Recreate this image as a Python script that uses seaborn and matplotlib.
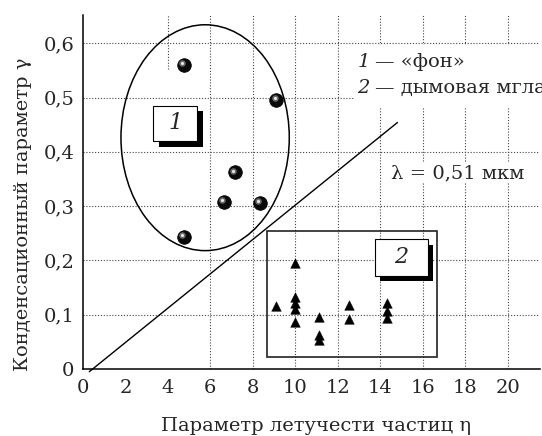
import numpy as np
import pandas as pd
import matplotlib
matplotlib.use('Agg')
import matplotlib.pyplot as plt
import matplotlib.patheffects as pe
from matplotlib.patches import Ellipse, Rectangle
from matplotlib.transforms import offset_copy
import seaborn as sns

# group 1 - "фон" (spheres)
fon_x = [4.77, 9.10, 7.15, 6.65, 8.34, 4.77]
fon_y = [0.560, 0.496, 0.362, 0.308, 0.306, 0.244]

# group 2 - дымовая мгла (triangles)
haze_x = [9.08, 10.0, 10.0, 10.0, 10.0, 10.0, 11.1, 11.1, 11.1, 12.5, 12.5, 14.3, 14.3, 14.3]
haze_y = [0.116, 0.196, 0.132, 0.122, 0.111, 0.087, 0.096, 0.063, 0.053, 0.117, 0.092, 0.121, 0.107, 0.093]

# separating line
line_x = [0.3, 14.8]
line_y = [-0.005, 0.454]

x_ticks = list(range(0, 21, 2))
y_ticks = [0, 0.1, 0.2, 0.3, 0.4, 0.5, 0.6]
y_labels = ['0', '0,1', '0,2', '0,3', '0,4', '0,5', '0,6']

df_fon = pd.DataFrame({'eta': fon_x, 'gamma': fon_y})
df_haze = pd.DataFrame({'eta': haze_x, 'gamma': haze_y})

sns.set_style('white')
plt.rcParams['font.family'] = ['DejaVu Serif']
FS = 14

fig = plt.figure(figsize=(5.42, 4.36), dpi=100)
ax = fig.add_axes([0.153, 0.1537, 0.843, 0.8119])

dot = dict(color='#444444', lw=0.8, linestyle=(0, (1, 1.6)), zorder=0)
ax.grid(False)
for gy in y_ticks[1:]:
    ax.axhline(gy, **dot)
for gx in range(6, 21, 2):
    ax.axvline(gx, **dot)
ax.axvline(4, ymin=0.847, ymax=1, **dot)

# cluster outlines
ax.add_patch(Ellipse((5.75, 0.426), 7.92, 0.416, fill=False, ec='k', lw=1.1, zorder=2))
ax.add_patch(Rectangle((8.64, 0.0215), 8.0, 0.2325, fill=False, ec='#222222', lw=1.2, zorder=2))

ax.plot(line_x, line_y, color='k', lw=1.0, clip_on=False, zorder=2)

# spheres
sns.scatterplot(data=df_fon, x='eta', y='gamma', ax=ax, s=95, color='#0a0a0a',
                edgecolor='k', linewidth=0.6, zorder=4, legend=False)
hl = offset_copy(ax.transData, fig=fig, x=-1.3, y=1.3, units='points')
ax.scatter(fon_x, fon_y, s=22, color='#6a6a6a', lw=0, transform=hl, zorder=5)
ax.scatter(fon_x, fon_y, s=5, color='#e8e8e8', lw=0, transform=hl, zorder=6)

# triangles
sns.scatterplot(data=df_haze, x='eta', y='gamma', ax=ax, marker='^', s=48, color='k',
                edgecolor='k', linewidth=0.3, zorder=4, legend=False)

# numbered labels with shadow
shadow = [pe.SimplePatchShadow(offset=(4, -4), shadow_rgbFace='k', alpha=1), pe.Normal()]
ax.add_patch(Rectangle((3.31, 0.420), 2.07, 0.065, fc='white', ec='k', lw=0.8,
                       zorder=7, path_effects=shadow))
ax.text(4.35, 0.4525, '1', style='italic', fontsize=16, ha='center', va='center', zorder=8)
ax.add_patch(Rectangle((13.74, 0.172), 2.48, 0.067, fc='white', ec='k', lw=0.8,
                       zorder=7, path_effects=shadow))
ax.text(14.98, 0.2055, '2', style='italic', fontsize=16, ha='center', va='center', zorder=8)

# legend text
ax.text(12.94, 0.566, '1', style='italic', fontsize=FS, va='center', zorder=8)
ax.text(13.75, 0.566, '— «фон»', fontsize=FS, va='center', zorder=8)
ax.text(12.9, 0.518, '2', style='italic', fontsize=FS, va='center', zorder=8)
ax.text(13.75, 0.518, '— дымовая мгла', fontsize=FS, va='center', zorder=8, clip_on=False)
ax.add_patch(Rectangle((12.8, 0.483), 9.0, 0.113, fc='white', ec='none', zorder=1))
ax.text(14.52, 0.361, 'λ = 0,51 мкм', fontsize=FS, va='center', zorder=8,
        bbox=dict(fc='white', ec='none', pad=1))

ax.set_xlim(0, 21.5)
ax.set_ylim(0, 0.652)
ax.set_xticks(x_ticks)
ax.set_xticks(list(range(1, 22, 2)), minor=True)
ax.set_yticks(y_ticks)
ax.set_yticklabels(y_labels)
ax.set_yticks(np.arange(0.05, 0.65, 0.1), minor=True)
ax.tick_params(which='major', direction='in', length=6, width=1, labelsize=FS, color='k')
ax.tick_params(axis='x', which='major', pad=7)
ax.tick_params(axis='y', which='major', pad=6)
ax.tick_params(which='minor', direction='in', length=3, width=1, color='k')

for s in ['top', 'right']:
    ax.spines[s].set_visible(False)
for s in ['left', 'bottom']:
    ax.spines[s].set_color('k')
    ax.spines[s].set_linewidth(1.1)

ax.set_xlabel('Параметр летучести частиц η', fontsize=FS)
ax.set_ylabel('Конденсационный параметр γ', fontsize=FS)
ax.xaxis.set_label_coords(0.51, -0.135)
ax.yaxis.set_label_coords(-0.112, 0.438)

fig.savefig('out.png', dpi=100)
